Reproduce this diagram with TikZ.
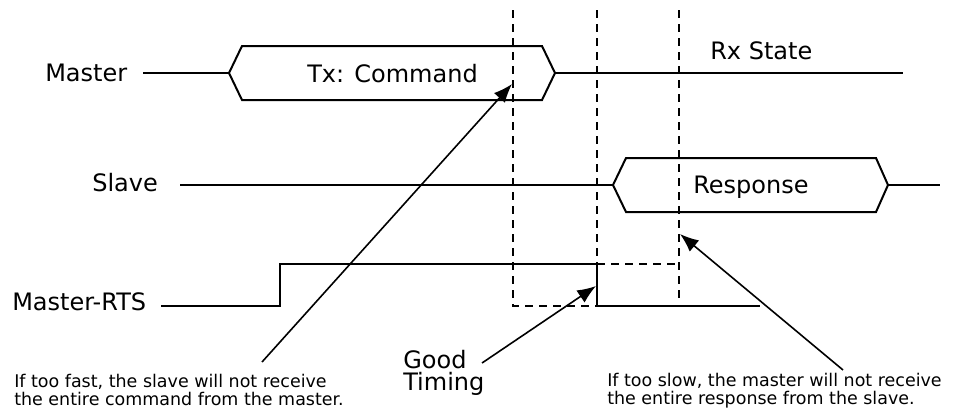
\documentclass[tikz,border=0pt]{standalone}
\usepackage{fontspec}
\setmainfont{DejaVu Sans}
\usetikzlibrary{arrows.meta}
\tikzstyle{wire} = [line width=1.5pt]
\tikzstyle{guide} = [line width=1.4pt, dash pattern=on 6pt off 4.5pt]
\tikzstyle{arrow} = [line width=1.2pt, -{Latex[length=14pt, width=11pt]}]
\tikzstyle{tag} = [anchor=base west, inner sep=0pt, align=left, font=\fontsize{18}{16.5}\selectfont]
\tikzstyle{note} = [anchor=base west, inner sep=0pt, align=left, font=\fontsize{13.1}{13}\selectfont]

\begin{document}
\begin{tikzpicture}[x=0.75pt, y=-0.75pt]
\useasboundingbox (0,0) rectangle (966,412);

% signal names
\node (master) [tag] at (45,81) {Master};
\node (slave) [tag] at (92,191) {Slave};
\node (rts) [tag] at (12,310) {Master-RTS};

% master line with the command frame
\coordinate (txL) at (229,73);
\coordinate (txR) at (555,73);
\draw [wire] (143,73) -- (txL);
\draw [wire] (txL) -- (242,46) -- (542,46) -- (txR) -- (542,100) -- (242,100) -- cycle;
\draw [wire] (txR) -- (903,73);
\node (tx) [tag] at (307,82) {Tx: Command};
\node (rx) [tag] at (710,59) {Rx State};

% slave line with the response frame
\coordinate (rspL) at (613,185);
\coordinate (rspR) at (888,185);
\draw [wire] (180,185) -- (rspL);
\draw [wire] (rspL) -- (626,158) -- (876,158) -- (rspR) -- (876,212) -- (626,212) -- cycle;
\draw [wire] (rspR) -- (940,185);
\node (rsp) [tag] at (693,193) {Response};

% RTS
\draw [wire] (161,306) -- (280,306) -- (280,264) -- (597,264) -- (597,306) -- (760,306);

% early / late edges
\draw [guide] (513,10) -- (513,306) -- (597,306);
\draw [guide] (597,10) -- (597,264);
\draw [guide] (597,264) -- (679,264);
\draw [guide] (679,10) -- (679,302);

% notes (base = last line)
\node (fast) [note] at (14,405) {If too fast, the slave will not receive\\the entire command from the master.};
\node (good) [tag] at (403,390) {Good\\Timing};
\node (slow) [note] at (607,404) {If too slow, the master will not receive\\the entire response from the slave.};

\coordinate (fastFrom) at (262,362);
\coordinate (fastTip) at (512,84);
\coordinate (goodFrom) at (482,363);
\coordinate (goodTip) at (596,286);
\coordinate (slowFrom) at (843,370);
\coordinate (slowTip) at (680,234);
\draw [arrow] (fastFrom) -- (fastTip);
\draw [arrow] (goodFrom) -- (goodTip);
\draw [arrow] (slowFrom) -- (slowTip);

\end{tikzpicture}
\end{document}
